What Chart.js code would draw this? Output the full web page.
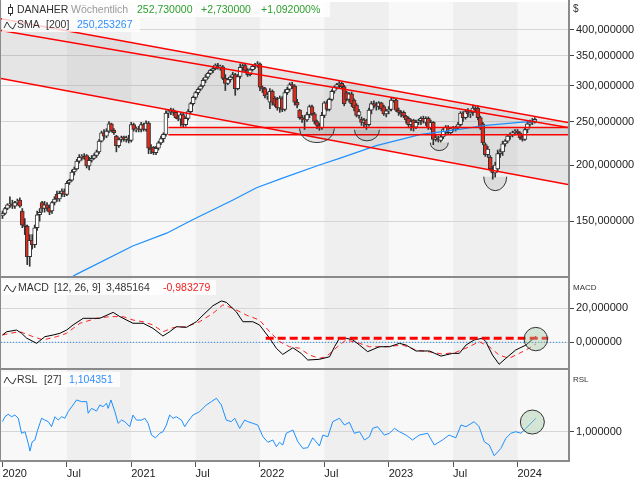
<!DOCTYPE html>
<html>
<head>
<meta charset="utf-8">
<title>DANAHER</title>
<script src="https://cdn.jsdelivr.net/npm/chart.js@4.4.1/dist/chart.umd.min.js"></script>
<style>
  body { margin: 0; width: 640px; height: 480px; position: relative; overflow: hidden; background: #fff; font-family: "Liberation Sans", Arial, sans-serif; }
  canvas { position: absolute; left: 0; }
  .lg { position: absolute; left: 2px; height: 15px; background: rgba(255,255,255,0.8); font-size: 10.5px; line-height: 15px; white-space: nowrap; color: #333; }
  .lg span { position: absolute; top: 0; }
  .lg svg { position: absolute; left: 1px; top: 0; }
  .side { position: absolute; left: 573px; color: #333; }
</style>
</head>
<body>
<canvas id="priceChart" width="640" height="278" style="top:0"></canvas>
<canvas id="macdChart" width="640" height="93" style="top:277px"></canvas>
<canvas id="rslChart" width="640" height="110" style="top:370px"></canvas>

<div class="lg" style="top:2px;width:328px">
  <svg width="14" height="15"><line x1="7.5" y1="2" x2="7.5" y2="14" stroke="#333"/><rect x="5.5" y="5.5" width="4" height="6" fill="#fff" stroke="#333"/></svg>
  <span style="left:15px">DANAHER</span>
  <span style="left:69px;color:#9a9a9a">Wöchentlich</span>
  <span style="left:135px;color:#2ea02e">252,730000</span>
  <span style="left:199px;color:#2ea02e">+2,730000</span>
  <span style="left:259px;color:#2ea02e">+1,092000%</span>
</div>
<div class="lg" style="top:17px;width:138px">
  <svg width="14" height="15"><polyline points="1,11 4,5 7,10 10,12 13,6" fill="none" stroke="#333"/></svg>
  <span style="left:15px">SMA</span>
  <span style="left:44px">[200]</span>
  <span style="left:75px;color:#2f8fff">250,253267</span>
</div>
<div class="lg" style="top:280px;width:214px">
  <svg width="14" height="15"><polyline points="1,11 4,5 7,10 10,12 13,6" fill="none" stroke="#333"/></svg>
  <span style="left:16px">MACD</span>
  <span style="left:52px">[12, 26, 9]</span>
  <span style="left:104px">3,485164</span>
  <span style="left:161px;color:#f02020">-0,983279</span>
</div>
<div class="lg" style="top:372px;width:118px">
  <svg width="14" height="15"><polyline points="1,11 4,5 7,10 10,12 13,6" fill="none" stroke="#333"/></svg>
  <span style="left:15px">RSL</span>
  <span style="left:42px">[27]</span>
  <span style="left:67px;color:#2f8fff">1,104351</span>
</div>
<div class="side" style="top:3px;font-size:10px">$</div>
<div class="side" style="top:283px;font-size:8px">MACD</div>
<div class="side" style="top:375px;font-size:8px">RSL</div>

<script>
// Zeitachse in Wochen ab Anfang 2020
const weekTicks = [0, 26, 52, 78, 104, 130, 156, 182, 208];
const weekLabels = ['2020', 'Jul', '2021', 'Jul', '2022', 'Jul', '2023', 'Jul', '2024'];
const darkBands = [[26, 52], [78, 104], [130, 156], [182, 208]];
const priceTicks = [150, 200, 250, 300, 350, 400];
const macdTicks = [0, 20];
const rslTicks = [1];

// Wochenkerzen [open, high, low, close]
const weeklyOHLC = [
  [154,158,152,156],[156,161,155,160],[160,164,159,163],[163,170,161,164],[164,167,160,162],
  [162,166,160,165],[165,168,163,166],[167,169,161,162],[158,160,145,147],[147,152,140,146],
  [146,147,120,125],[125,140,119,136],[136,140,130,133],[133,147,131,145],[145,158,143,155],
  [155,160,150,157],[165,166,157,160],[160,166,157,163],[163,165,158,160],[161,163,155,157],
  [158,166,156,165],[165,170,163,168],[172,175,166,168],[168,175,166,173],[173,177,170,175],
  [175,177,170,172],[172,184,171,182],[183,186,181,185],[185,195,184,193],[193,198,190,196],
  [196,206,195,204],[204,211,202,208],[208,211,205,209],[209,212,206,207],[210,211,197,199],
  [199,208,195,205],[205,210,203,207],[207,212,206,210],[210,216,208,214],[214,228,212,226],
  [226,238,225,236],[236,240,228,232],[232,241,230,238],[238,250,236,247],[247,248,237,239],
  [239,241,234,236],[232,233,214,221],[221,230,219,228],[228,232,225,230],[231,232,226,228],
  [228,232,225,230],[229,233,224,227],[227,249,225,246],[246,248,238,240],[240,243,237,241],
  [241,244,237,240],[240,249,237,246],[246,248,238,240],[240,251,238,248],[248,250,212,218],
  [218,222,212,216],[219,220,211,213],[213,220,211,218],[218,226,216,224],[224,232,222,229],
  [229,236,225,234],[234,264,232,261],[261,266,255,264],[263,268,259,265],[265,267,258,262],
  [262,263,254,255],[256,258,251,253],[253,262,244,259],[259,261,243,246],[246,256,244,254],
  [254,266,252,263],[263,276,261,274],[274,285,272,283],[283,292,280,290],[290,297,287,295],
  [295,302,293,300],[300,312,298,309],[309,318,305,314],[314,322,312,320],[320,327,318,325],
  [325,330,321,328],[328,336,326,334],[333,337,327,330],[330,334,325,332],[331,333,310,312],
  [312,318,293,304],[304,312,302,310],[310,316,306,314],[314,322,312,318],[318,320,286,296],
  [296,318,294,315],[315,336,312,330],[330,336,324,333],[333,336,322,325],[326,328,315,318],
  [318,328,316,326],[326,335,324,332],[332,337,328,334],[334,340,330,336],[336,338,293,298],
  [298,300,290,296],[296,298,282,285],[285,290,280,287],[276,296,267,292],[292,294,272,276],
  [282,284,270,272],[280,283,265,268],[268,285,262,282],[282,284,263,266],[266,294,264,290],
  [290,298,287,295],[295,305,292,302],[302,306,296,300],[300,302,272,276],[276,280,268,272],
  [265,266,253,255],[255,258,249,253],[253,258,240,252],[252,262,250,259],[259,272,255,270],
  [270,272,258,260],[260,262,247,250],[250,252,241,245],[245,248,239,242],[242,262,240,258],
  [258,277,255,275],[275,278,264,266],[266,282,264,280],[280,294,278,292],[292,300,289,298],
  [298,304,295,302],[302,307,297,304],[304,306,296,299],[299,301,271,274],[290,292,278,280],
  [280,290,276,288],[288,291,270,274],[279,281,264,268],[272,274,256,258],[258,266,254,263],
  [253,256,245,249],[249,254,243,252],[252,253,240,246],[246,268,244,265],[265,277,260,274],
  [274,278,268,272],[272,276,265,270],[270,277,266,275],[275,276,264,267],[270,272,258,260],
  [260,266,256,264],[264,270,260,266],[266,282,264,279],[279,283,276,281],[279,281,263,265],
  [265,268,258,262],[262,264,256,260],[262,264,255,257],[257,258,248,252],[254,256,242,246],
  [246,253,239,250],[252,253,238,243],[243,252,241,249],[249,253,246,251],[251,256,246,254],
  [254,257,248,250],[249,256,245,254],[254,256,240,242],[242,252,240,249],[249,250,222,228],
  [228,234,226,230],[230,232,225,228],[227,233,225,231],[231,242,229,240],[237,245,233,243],
  [243,245,234,236],[236,243,234,241],[241,244,238,242],[241,244,238,243],[243,249,240,246],
  [246,263,244,261],[261,263,250,255],[255,266,253,263],[263,267,256,260],[260,265,255,262],
  [262,272,258,268],[268,270,262,265],[268,271,252,255],[255,257,240,242],[247,249,222,224],
  [222,224,209,211],[211,220,208,217],[208,210,194,196],[196,199,186,192],[192,203,188,200],
  [196,216,193,212],[212,217,208,214],[214,226,210,223],[223,228,220,226],[226,234,224,232],
  [232,236,228,234],[234,238,231,236],[236,240,233,238],[238,240,234,236],[236,237,228,230],
  [231,233,226,228],[228,242,227,240],[240,250,236,247],[247,252,244,249],[249,254,246,250],
  [250,255,248,252.73]
];

// SMA 200 [Woche, Wert]
const smaSeries = [[25,110],[29.6,114],[52.6,132],[66.3,141],[76.8,151],[92.9,167],[102.6,178],
  [113.1,187],[128,200],[136.1,207],[151,221],[169,234],[181.6,239],[195.4,245],[208.7,249],[215.5,250.3]];

// Trendlinien [Woche, Kurs]
const channelUpper = [[-0.6, 423.8], [228.4, 248.7]];
const channelMid = [[-0.6, 398.7], [228.4, 242.4]];
const channelLower = [[-0.6, 311.7], [228.4, 180.9]];
const supportHigh = [[67, 242.4], [228.4, 242.4]];
const supportLow = [[67, 233.6], [228.4, 233.6]];
const bottomMarks = [[127.0, 241.2], [147.2, 239.6], [176.4, 224.4], [199.0, 188.4]];

// MACD [Woche, Wert]
const macdSeries = [[0,4.3],[1.7,6.2],[5.7,7.2],[7.7,5.3],[9.8,2.4],[13.8,-0.6],[17.1,3.3],[20.5,4.3],
  [23.2,5.3],[25.9,7.2],[28.5,10.2],[32.6,14.1],[39.3,14.1],[44.7,17.6],[47.4,15.1],[52.7,11.2],
  [56.8,11.2],[60.8,8.2],[64.8,3.7],[67.5,6.2],[70.2,9.2],[74.3,8.8],[78.3,12.1],[81,16],[85,21.5],
  [88.4,24.3],[90.4,23.5],[94.4,18],[97.1,12.1],[101.1,12.1],[103.8,10.2],[107.9,2.4],[110.6,-3.5],
  [113.2,-7.1],[117.3,-3.2],[120.6,-6.5],[123.3,-10.4],[128,-10],[132.1,-8.5],[134.1,-2.6],[136.1,2.4],
  [138.8,2.4],[141.5,1.4],[144.2,-1.6],[147.5,-5.5],[152.2,-2.6],[156.3,-2.6],[160.3,-0.6],[163,-1.6],
  [167,-5.1],[172.4,-5.1],[177.1,-8.1],[181.8,-6.5],[184.5,-6.5],[187.2,-1.6],[190.5,1.4],[193.9,2.4],
  [195.2,0.4],[197.9,-7.5],[200.6,-12.9],[203.3,-9.4],[207.3,-4.5],[211.4,-1.6],[215.4,3.5]];
const signalSeries = [[0,4.3],[3,5.3],[7.1,6.2],[12.4,3.3],[16.5,1.4],[21.9,3.3],[25.9,5.3],[31.3,11.2],
  [38,14.1],[43.3,15.1],[48.7,15.1],[52.7,13.1],[56.8,12.1],[60.8,10.2],[64.8,6.2],[68.9,8.6],[74.3,9.2],
  [79.6,12.1],[85,17],[89,22],[93.1,20],[98.5,16],[103.8,13.1],[107.9,6.2],[111.9,0.4],[115.9,-2.6],
  [120,-3.5],[124,-7.5],[128,-9.4],[130.7,-8.5],[136.1,-1.6],[138.8,1.4],[144.2,-0.6],[148.2,-2.6],
  [154.9,-2.6],[161.6,-1.6],[167,-4.5],[173.7,-5.9],[177.7,-6.9],[183.1,-5.9],[188.5,-2.6],[192.5,0.4],
  [196.6,-2.6],[200.6,-7.5],[204.6,-9.4],[208.7,-6.5],[212.7,-3.5],[215.4,-1]];
const macdLevel = [[106.3, 2.35], [220.4, 2.35]];
const macdMark = [[215.4, 1.9]];

// RSL [Woche, Wert]
const rslSeries = [[0,1.078],[1,1.116],[2.3,1.135],[3.7,1.116],[5,1.129],[6.4,1.104],[7.7,0.988],[9.1,1.0],
  [10.4,0.91],[11.1,0.85],[12,0.922],[13.1,0.936],[14,1.0],[15.1,1.065],[15.8,1.104],[17.1,1.09],[18.5,1.078],
  [19.8,1.039],[21.2,1.116],[22.5,1.09],[23.9,1.116],[25.2,1.104],[26.5,1.155],[28.5,1.207],[29.9,1.246],
  [31.9,1.233],[34,1.233],[34.6,1.143],[36,1.181],[38,1.16],[39.3,1.207],[40.6,1.194],[42,1.22],[42.7,1.181],
  [43.8,1.246],[45.4,1.155],[46.7,1.065],[48.1,1.09],[49.4,1.078],[51.4,1.039],[52.7,1.129],[54.1,1.09],
  [56.1,1.09],[57.5,1.104],[58.8,1.065],[60.2,0.974],[61.8,0.953],[63.5,0.988],[64.8,1.0],[66.2,1.052],
  [67.5,1.129],[68.9,1.104],[70.2,1.116],[72.3,1.09],[73.6,1.039],[74.9,1.078],[76.9,1.129],[79.6,1.155],
  [82.3,1.207],[84.4,1.233],[86.4,1.259],[88.4,1.207],[90.4,1.09],[92.4,1.078],[93.8,1.104],[95.8,1.026],
  [97.8,1.09],[99.1,1.078],[101.1,1.065],[103.1,1.052],[105.2,0.961],[107.2,0.918],[109.2,0.936],
  [110.6,0.884],[111.9,0.918],[113.2,0.897],[114.6,0.988],[117.3,1.013],[119.3,0.922],[121.3,0.871],
  [123.3,0.876],[125.3,0.953],[128,0.89],[129.4,0.974],[131.4,0.961],[133.4,1.078],[136.1,1.104],
  [138.1,1.052],[140.1,1.073],[142.1,0.988],[144.2,1.0],[146.2,0.936],[148.2,0.961],[149.5,1.026],
  [151.5,1.039],[154.2,0.974],[156.3,0.988],[158.3,1.026],[160.3,1.0],[163,0.974],[165.6,0.936],
  [168.3,0.974],[171.7,0.988],[174.4,0.897],[177.7,0.936],[180.4,0.974],[183.1,0.953],[185.2,1.052],
  [187.2,1.039],[190.5,1.078],[192.5,1.039],[194.6,0.922],[196.6,0.897],[198.6,0.814],[201.3,0.871],
  [203.3,0.949],[205.3,0.988],[207.3,1.0],[209.4,0.988],[211.4,1.026],[215.4,1.104]];
const rslMark = [[214.0, 1.075]];

const fmt = v => v.toFixed(6).replace('.', ',');
const pts = arr => arr.map(([x, y]) => ({ x, y }));

// Hintergrund mit Halbjahresstreifen
const bandPlugin = {
  id: 'bands',
  beforeDraw(chart) {
    const { ctx, chartArea: a, scales: { x } } = chart;
    ctx.save();
    ctx.fillStyle = '#f8f8f8';
    ctx.fillRect(a.left, a.top, a.right - a.left, a.bottom - a.top);
    ctx.fillStyle = '#efefef';
    darkBands.forEach(([s, e]) => {
      const x0 = x.getPixelForValue(s), x1 = x.getPixelForValue(e);
      ctx.fillRect(x0, a.top, x1 - x0, a.bottom - a.top);
    });
    ctx.restore();
  }
};

// Rahmen der Panels
const framePlugin = {
  id: 'frame',
  afterDraw(chart) {
    const { ctx, chartArea: a } = chart;
    ctx.save();
    ctx.fillStyle = '#8a8a8a';
    ctx.fillRect(0, 0, 1, a.bottom);
    ctx.fillRect(a.right, 0, 2, a.bottom + 2);
    ctx.fillRect(0, a.bottom, a.right + 2, 2);
    ctx.restore();
  }
};

// Markierungen (Boeden und Kreise)
const marksPlugin = {
  id: 'marks',
  afterDatasetsDraw(chart, args, opts) {
    if (!opts.points) return;
    const { ctx, scales: { x, y } } = chart;
    ctx.save();
    opts.points.forEach(([w, v], i) => {
      const px = x.getPixelForValue(w), py = y.getPixelForValue(v);
      const [rx, ry] = opts.radii[i];
      ctx.beginPath();
      ctx.ellipse(px, py, rx, ry, 0, 0, opts.half ? Math.PI : Math.PI * 2);
      ctx.fillStyle = opts.fill;
      ctx.fill();
      ctx.lineWidth = 1;
      ctx.strokeStyle = '#333';
      ctx.stroke();
    });
    ctx.restore();
  }
};

function xScale(show) {
  return {
    type: 'linear', min: -0.6, max: 228.4, display: show, offset: false,
    afterBuildTicks: s => { s.ticks = weekTicks.map(value => ({ value })); },
    afterFit: s => { s.height = show ? 20 : 0; s.paddingLeft = 0; s.paddingRight = 0; },
    ticks: {
      autoSkip: false, maxRotation: 0, align: 'start', padding: 0, color: '#222',
      font: { family: 'Liberation Sans', size: 11 },
      callback: v => weekLabels[weekTicks.indexOf(v)]
    },
    grid: { drawOnChartArea: false, offset: false, tickLength: 7, tickColor: '#555', color: '#555' },
    border: { display: false }
  };
}

function yScale(type, min, max, tickValues) {
  return {
    type, min, max, position: 'right',
    afterBuildTicks: s => { s.ticks = tickValues.map(value => ({ value })); },
    afterFit: s => { s.width = 72; s.paddingTop = 0; s.paddingBottom = 0; },
    ticks: { padding: 2, color: '#222', font: { family: 'Liberation Sans', size: 11 }, callback: v => fmt(v) },
    grid: { color: '#d6d6d6', tickLength: 6, tickColor: '#444' },
    border: { display: false }
  };
}

function baseOptions(y, padding, showX, marks) {
  return {
    responsive: false, animation: false, events: [],
    layout: { padding },
    plugins: { legend: { display: false }, tooltip: { enabled: false }, marks: marks || {} },
    scales: { x: xScale(showX), y }
  };
}

function lineSet(data, color, width, order, extra) {
  return Object.assign({
    type: 'line', data: pts(data), borderColor: color, borderWidth: width,
    pointRadius: 0, tension: 0, fill: false, order
  }, extra);
}

const clear = 'rgba(0,0,0,0)';

new Chart(document.getElementById('priceChart'), {
  type: 'bar',
  data: {
    datasets: [
      lineSet(channelUpper, clear, 0, 20, { fill: 1, backgroundColor: 'rgba(0,0,0,0.075)' }),
      lineSet(channelLower, clear, 0, 21),
      lineSet(supportHigh, clear, 0, 20, { fill: 3, backgroundColor: 'rgba(0,0,0,0.07)' }),
      lineSet(supportLow, clear, 0, 21),
      {
        type: 'bar', data: weeklyOHLC.map((c, i) => ({ x: i, y: [c[2], c[1]] })),
        backgroundColor: '#333', barThickness: 1, grouped: false, order: 11
      },
      {
        type: 'bar', data: weeklyOHLC.map((c, i) => ({ x: i, y: [c[0], c[3]] })),
        backgroundColor: weeklyOHLC.map(c => c[3] >= c[0] ? '#ffffff' : '#dc2a1c'),
        borderColor: '#333', borderWidth: 1, borderSkipped: false,
        barThickness: 4, grouped: false, order: 10
      },
      lineSet(smaSeries, '#1e8fff', 1.2, 5),
      lineSet(channelUpper, '#ff0000', 1.5, 1),
      lineSet(channelMid, '#ff0000', 1.5, 1),
      lineSet(channelLower, '#ff0000', 1.5, 1),
      lineSet(supportHigh, '#ff0000', 1.5, 1),
      lineSet(supportLow, '#ff0000', 1.5, 1)
    ]
  },
  options: baseOptions(yScale('logarithmic', 113.2, 461.5, priceTicks), { left: 1, top: 2, bottom: 2, right: 0 }, false,
    { points: bottomMarks, radii: [[17.5, 14], [12.5, 11], [9, 8], [11.5, 14]], half: true, fill: 'rgba(0,0,0,0.08)' }),
  plugins: [bandPlugin, marksPlugin, framePlugin]
});

new Chart(document.getElementById('macdChart'), {
  type: 'line',
  data: {
    datasets: [
      lineSet([[-0.6, 0], [228.4, 0]], '#1e8fff', 1, 5, { borderDash: [1, 2] }),
      lineSet(signalSeries, '#ff2020', 1, 3, { borderDash: [5, 4] }),
      lineSet(macdSeries, '#000000', 1, 2),
      lineSet(macdLevel, '#ff0000', 3, 1, { borderDash: [8, 4] })
    ]
  },
  options: baseOptions(yScale('linear', -15.1, 37.8, macdTicks), { left: 1, top: 1, bottom: 2, right: 0 }, false,
    { points: macdMark, radii: [[11.7, 11.7]], half: false, fill: 'rgba(160,200,160,0.4)' }),
  plugins: [bandPlugin, marksPlugin, framePlugin]
});

new Chart(document.getElementById('rslChart'), {
  type: 'line',
  data: {
    datasets: [lineSet(rslSeries, '#1e8fff', 1, 1)]
  },
  options: baseOptions(yScale('linear', 0.781, 1.478, rslTicks), { left: 1, top: 0, bottom: 0, right: 0 }, true,
    { points: rslMark, radii: [[12, 12]], half: false, fill: 'rgba(160,200,160,0.4)' }),
  plugins: [bandPlugin, marksPlugin, framePlugin]
});
</script>
</body>
</html>
